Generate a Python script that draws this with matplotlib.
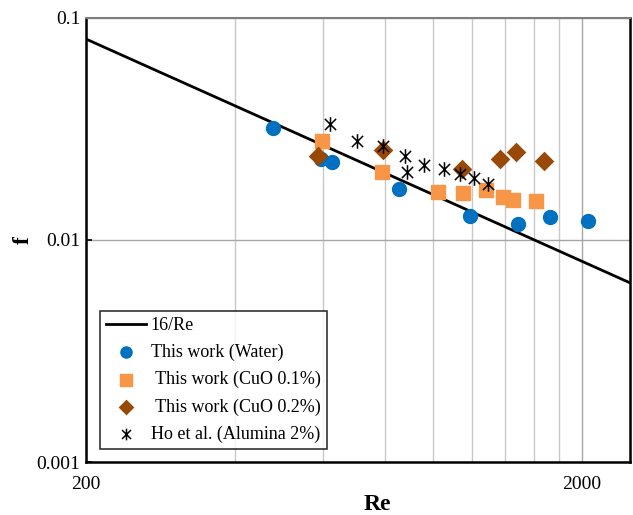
import numpy as np
import matplotlib
matplotlib.use('Agg')
import matplotlib.pyplot as plt
from matplotlib.path import Path
from matplotlib.ticker import FixedLocator, NullLocator, NullFormatter

# data
re_water = [477, 595, 626, 855, 1191, 1488, 1721, 2056]
f_water = [0.0318, 0.0231, 0.0223, 0.0170, 0.0128, 0.0118, 0.0127, 0.0122]

re_cuo1 = [597, 791, 1024, 1149, 1283, 1384, 1453, 1618]
f_cuo1 = [0.0277, 0.0202, 0.0164, 0.0162, 0.0168, 0.0156, 0.0151, 0.0150]

re_cuo2 = [588, 793, 1144, 1369, 1470, 1676]
f_cuo2 = [0.0239, 0.0253, 0.0208, 0.0230, 0.0249, 0.0227]

re_ho = [621, 705, 795, 879, 888, 962, 1052, 1133, 1211, 1293]
f_ho = [0.0331, 0.0279, 0.0263, 0.0238, 0.0202, 0.0218, 0.0209, 0.0197, 0.0189, 0.0179]

re_lim = [200, 2500]
x_major = [200, 2000]
x_minor = [400, 600, 800, 1000, 1200, 1400, 1600, 1800]
y_major = [0.001, 0.01, 0.1]
y_labels = ['0.001', '0.01', '0.1']

plt.rcParams['font.family'] = ['Liberation Serif', 'DejaVu Serif']

# asterisk like Excel: X plus a vertical bar
star = Path([(-1, -1), (1, 1), (-1, 1), (1, -1), (0, -1.3), (0, 1.3)],
            [Path.MOVETO, Path.LINETO, Path.MOVETO, Path.LINETO, Path.MOVETO, Path.LINETO])

fig = plt.figure(figsize=(6.33, 5.15), dpi=100)
ax = fig.add_axes([0.1359, 0.1029, 0.8594, 0.8631])

re_line = np.array(re_lim, dtype=float)
ax.plot(re_line, 16 / re_line, color='black', lw=2.0, label='16/Re', zorder=3)
ax.scatter(re_water, f_water, s=100, marker='o', color='#0070C0', label='This work (Water)', zorder=4)
ax.scatter(re_cuo1, f_cuo1, s=100, marker='s', color='#F79646', label=' This work (CuO 0.1%)', zorder=4)
ax.scatter(re_cuo2, f_cuo2, s=100, marker='D', color='#984807', label=' This work (CuO 0.2%)', zorder=4,
           linewidths=0)
ax.scatter(re_ho, f_ho, s=110, marker=star, color='black', linewidths=1.1, label='Ho et al. (Alumina 2%)', zorder=5)

ax.set_xscale('log')
ax.set_yscale('log')
ax.set_xlim(re_lim)
ax.set_ylim(0.001, 0.1)

ax.xaxis.set_major_locator(FixedLocator(x_major))
ax.xaxis.set_minor_locator(FixedLocator(x_minor))
ax.xaxis.set_minor_formatter(NullFormatter())
ax.set_xticklabels([str(v) for v in x_major])
ax.yaxis.set_major_locator(FixedLocator(y_major))
ax.yaxis.set_minor_locator(NullLocator())
ax.set_yticklabels(y_labels)

ax.grid(True, which='major', color='#A6A6A6', lw=1.0, zorder=0)
ax.grid(True, which='minor', axis='x', color='#C8C8C8', lw=1.0, zorder=0)
ax.set_axisbelow(True)

ax.tick_params(axis='y', which='major', labelsize=14, length=4, width=1.2, direction='in', pad=4)
ax.tick_params(axis='x', which='major', labelsize=14, length=0, pad=10)
ax.tick_params(axis='both', which='minor', length=0)

for side in ['left', 'bottom', 'right']:
    ax.spines[side].set_linewidth(1.8)
    ax.spines[side].set_color('black')
ax.spines['top'].set_color('#7F7F7F')
ax.spines['top'].set_linewidth(1.5)

ax.set_xlabel('Re', fontsize=17, fontweight='bold', va='center')
ax.xaxis.set_label_coords(0.535, -0.095)
ax.set_ylabel('f', fontsize=17, fontweight='bold', va='center')
ax.yaxis.set_label_coords(-0.116, 0.5)

leg = ax.legend(loc='lower left', bbox_to_anchor=(0.0257, 0.029), fontsize=13, frameon=True,
                fancybox=False, edgecolor='black', borderaxespad=0, handlelength=2.2,
                handletextpad=0.25, labelspacing=0.55, borderpad=0.35, scatterpoints=1,
                markerscale=0.8)
leg.get_frame().set_linewidth(1.2)

plt.savefig('out.png', dpi=100)
